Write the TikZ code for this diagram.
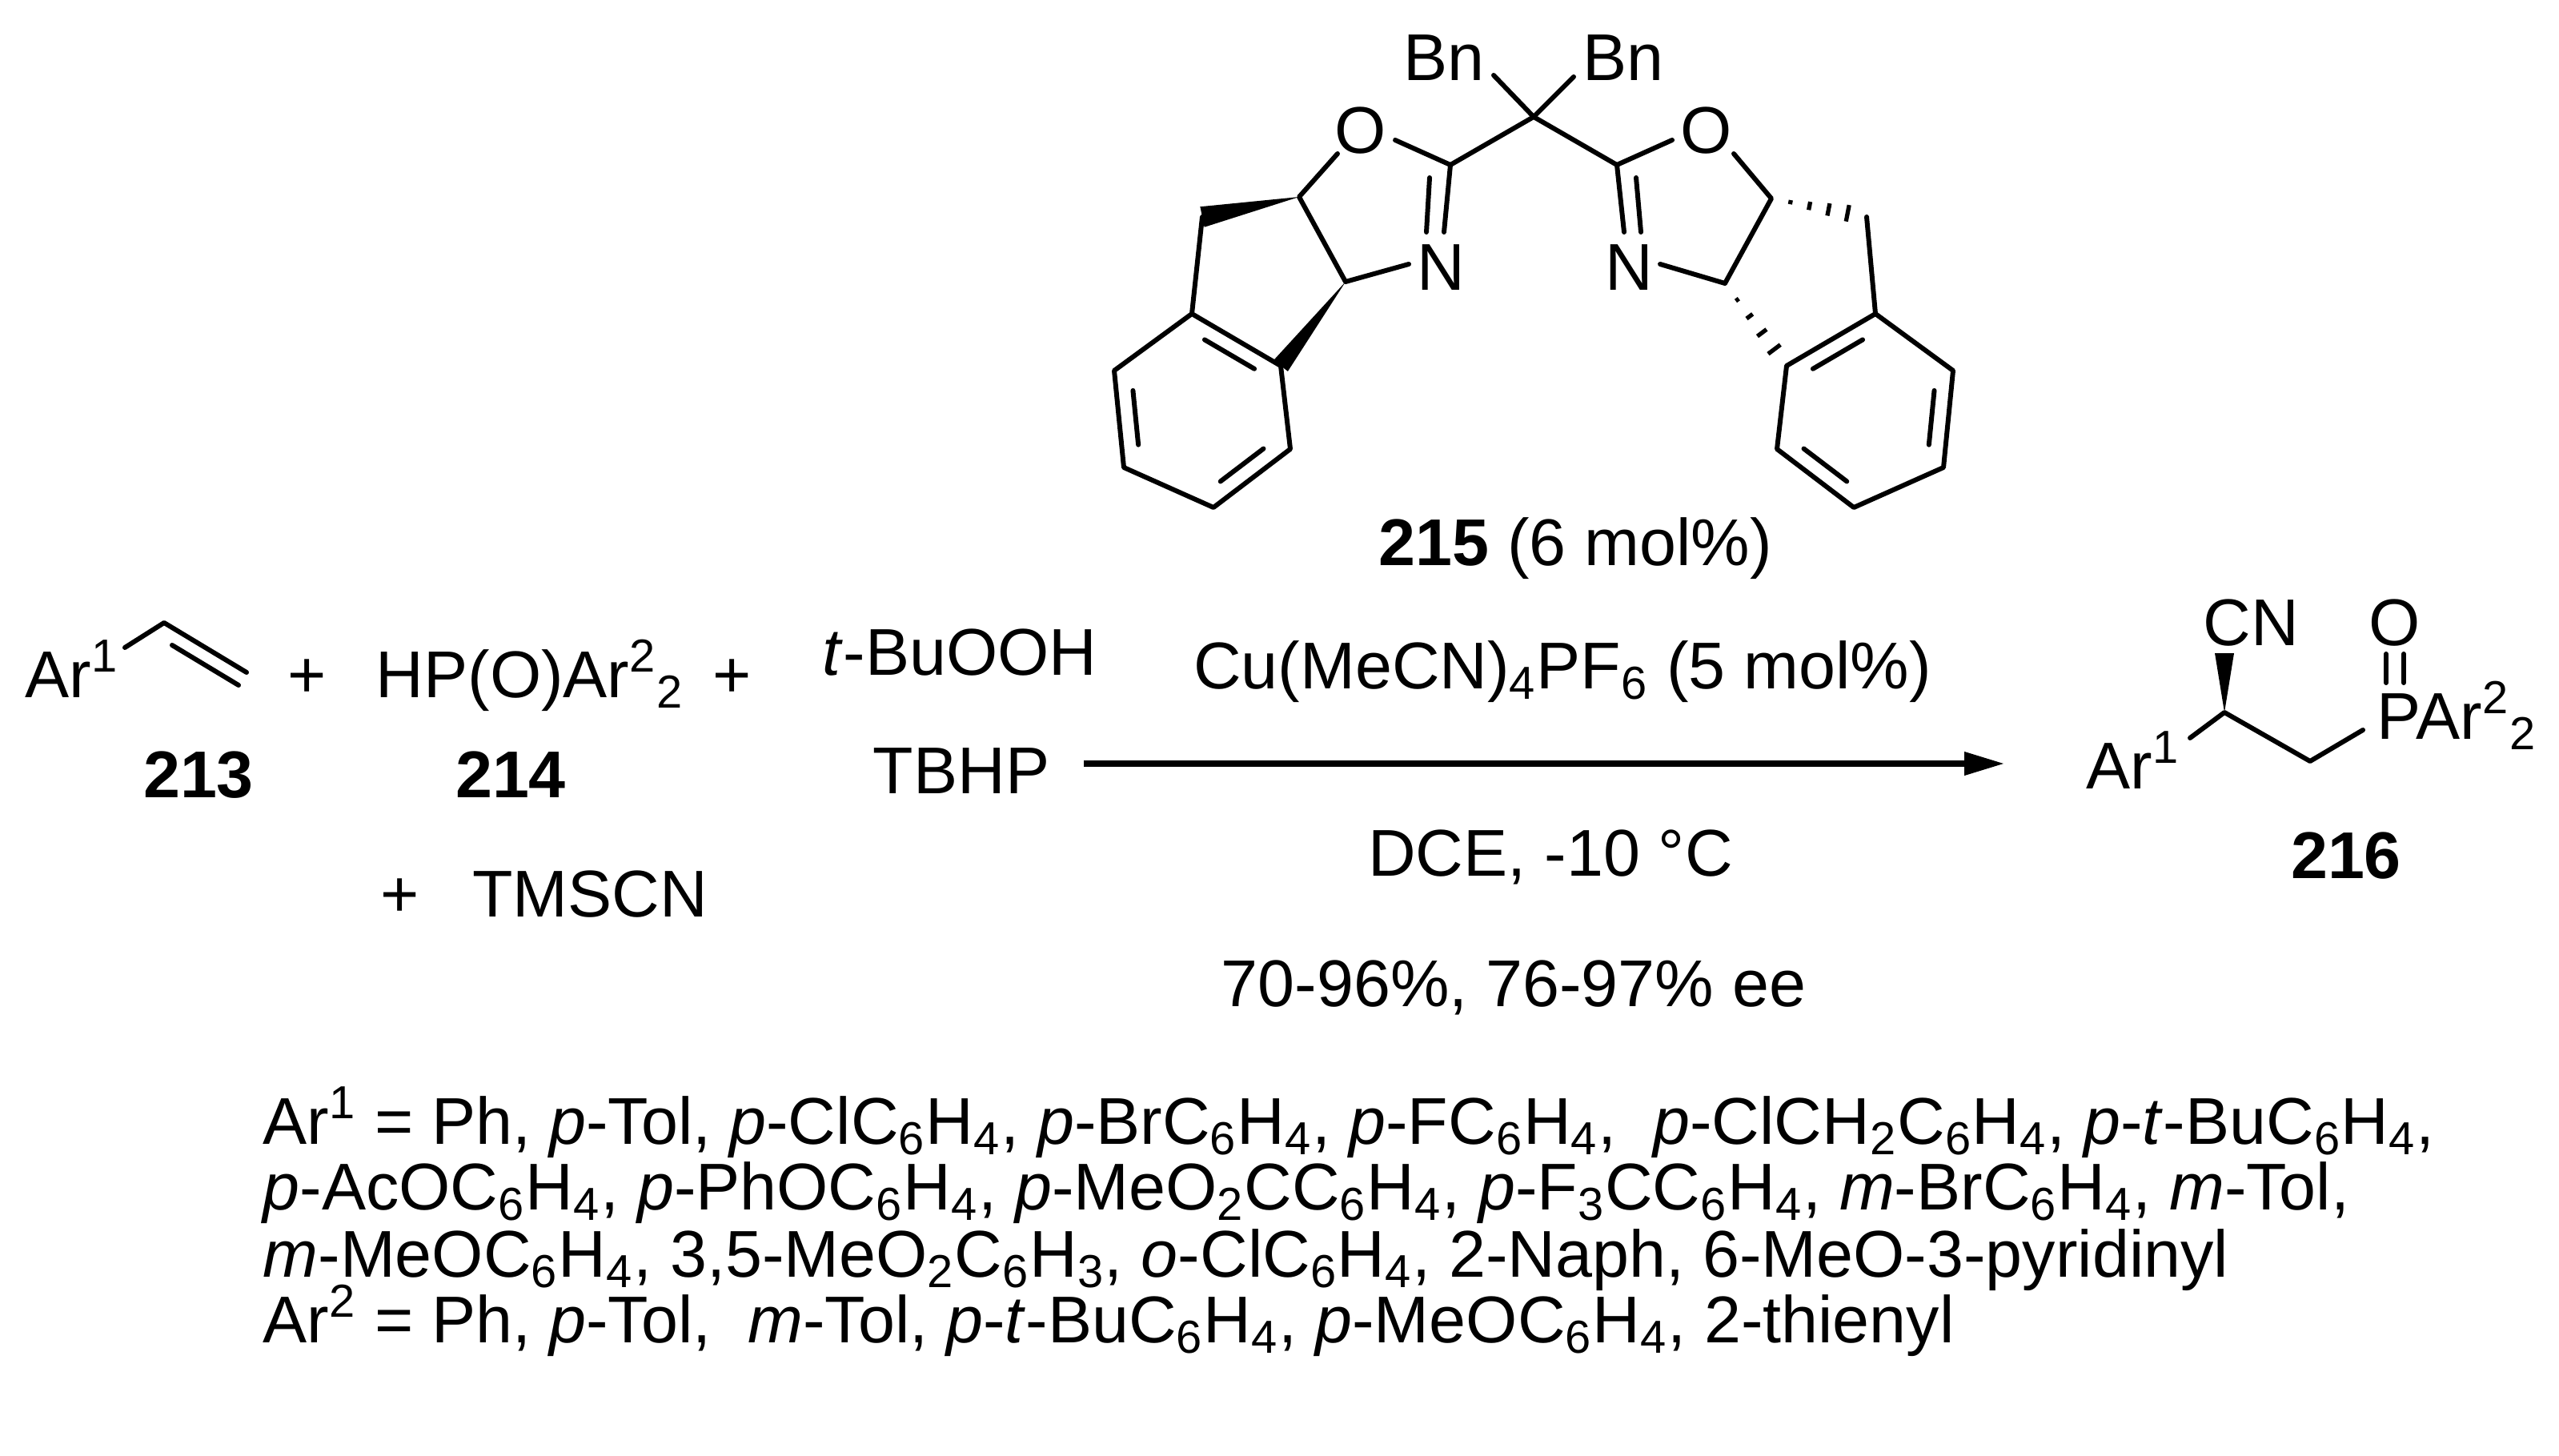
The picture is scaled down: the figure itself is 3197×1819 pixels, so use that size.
\documentclass[tikz,border=0pt]{standalone}
\usepackage{fontspec}
\setmainfont{Liberation Sans}
\usetikzlibrary{calc,arrows.meta}
\newcommand{\lo}[1]{\textsubscript{#1}}
\newcommand{\hi}[1]{\textsuperscript{#1}}
\begin{document}
\begin{tikzpicture}[x=0.01cm,y=-0.01cm,
  bond/.style={line width=1.7pt,line cap=round,line join=round},
  txt/.style={inner sep=0pt,font=\fontsize{23.5}{27}\selectfont},
  atom/.style={txt,anchor=center},
  lbl/.style={txt,anchor=base}]
\useasboundingbox (0,0) rectangle (3197,1819);
% ---------- ligand 215 ----------
\coordinate (Cc) at (1916,146);
\node[atom] (BnL) at (1804,72) {Bn};
\node[atom] (BnR) at (2028,72) {Bn};
\coordinate (bl) at (1866,94); \coordinate (br) at (1966,96);
\coordinate (C2) at (1812,206); \coordinate (C2r) at (2020,206);
\node[atom] (OL) at (1700,163) {O};
\node[atom] (OR) at (2132,163) {O};
\node[atom] (NL) at (1800,334) {N};
\node[atom] (NR) at (2035,334) {N};
\coordinate (C7a) at (1623,246); \coordinate (C3a) at (1681,352);
\coordinate (CH2) at (1502,271);
\coordinate (A) at (1489,392); \coordinate (B) at (1600,457); \coordinate (C) at (1612,561);
\coordinate (D) at (1516,634); \coordinate (E) at (1404,584); \coordinate (F) at (1392,463);
\coordinate (Z) at (1502,515);
\coordinate (C7ar) at (2213,248); \coordinate (C3ar) at (2155,354);
\coordinate (CH2r) at (2332,271);
\coordinate (Ar) at (2343,392); \coordinate (Br) at (2232,457); \coordinate (Cr) at (2220,561);
\coordinate (Dr) at (2316,634); \coordinate (Er) at (2428,584); \coordinate (Fr) at (2440,463);
\coordinate (Zr) at (2330,515);
\draw[bond] (bl) -- (Cc) -- (br);
\draw[bond] (C2) -- (Cc) -- (C2r);
\draw[bond] (1743,175) -- (C2); \draw[bond] (2089,175) -- (C2r);
\draw[bond] (C2) -- (1804,290); \draw[bond] (1786,222) -- (1782,290);
\draw[bond] (C2r) -- (2029,290); \draw[bond] (2044,222) -- (2050,290);
\draw[bond] (1671,192) -- (C7a) -- (C3a) -- (1760,330);
\draw[bond] (2166,192) -- (C7ar) -- (C3ar) -- (2074,330);
% left wedges
\fill (C7a) -- ($(CH2)!3.7pt!90:(C7a)$) -- ($(CH2)!3.7pt!-90:(C7a)$) -- cycle;
\fill (C3a) -- ($(B)!3.2pt!90:(C3a)$) -- ($(B)!3.2pt!-90:(C3a)$) -- cycle;
\draw[bond] (CH2) -- (A);
\draw[bond] (A) -- (B) -- (C) -- (D) -- (E) -- (F) -- cycle;
\draw[bond] ($0.68*(A)+0.12*(B)+0.2*(Z)$) -- ($0.12*(A)+0.68*(B)+0.2*(Z)$);
\draw[bond] ($0.68*(C)+0.12*(D)+0.2*(Z)$) -- ($0.12*(C)+0.68*(D)+0.2*(Z)$);
\draw[bond] ($0.68*(E)+0.12*(F)+0.2*(Z)$) -- ($0.12*(E)+0.68*(F)+0.2*(Z)$);
% right hashes
\foreach \t in {0.2,0.4,0.6,0.8,1.0}{
  \draw[line width=1.5pt] ($(C7ar)!\t!(CH2r)!{\t*3.7pt}!90:(CH2r)$) -- ($(C7ar)!\t!(CH2r)!{\t*3.7pt}!-90:(CH2r)$);
  \draw[line width=1.5pt] ($(C3ar)!\t!(Br)!{\t*3.4pt}!90:(Br)$) -- ($(C3ar)!\t!(Br)!{\t*3.4pt}!-90:(Br)$);
}
\draw[bond] (CH2r) -- (Ar);
\draw[bond] (Ar) -- (Br) -- (Cr) -- (Dr) -- (Er) -- (Fr) -- cycle;
\draw[bond] ($0.68*(Ar)+0.12*(Br)+0.2*(Zr)$) -- ($0.12*(Ar)+0.68*(Br)+0.2*(Zr)$);
\draw[bond] ($0.68*(Cr)+0.12*(Dr)+0.2*(Zr)$) -- ($0.12*(Cr)+0.68*(Dr)+0.2*(Zr)$);
\draw[bond] ($0.68*(Er)+0.12*(Fr)+0.2*(Zr)$) -- ($0.12*(Er)+0.68*(Fr)+0.2*(Zr)$);
\node[lbl] (l215) at (1968,707) {\textbf{215} (6 mol\%)};
% ---------- reactants ----------
\node[txt,anchor=base west] (ar1) at (31,871) {Ar\hi{1}};
\coordinate (v1) at (156,809); \coordinate (v2) at (205,778); \coordinate (v3) at (308,840);
\draw[bond] (v1) -- (v2) -- (v3);
\draw[bond] (215,806) -- (298,856);
\node[lbl] (p1) at (384,871) {+};
\node[txt,anchor=base west] (r214) at (469,871) {HP(O)Ar\hi{2}\lo{2}};
\node[lbl] (p2) at (915,871) {+};
\node[txt,anchor=base west] (tbu) at (1027,843) {\textit{t}-BuOOH};
\node[lbl] (n213) at (248,996) {\textbf{213}};
\node[lbl] (n214) at (638,996) {\textbf{214}};
\node[lbl] (tbhp) at (1201,991) {TBHP};
\node[lbl] (p3) at (500,1145) {+};
\node[lbl] (tms) at (737,1145) {TMSCN};
% ---------- arrow ----------
\coordinate (a1) at (1354,954); \coordinate (a2) at (2504,954);
\draw[line width=2pt,-{Triangle[length=0.5cm,width=0.28cm]}] (a1) -- (a2);
\node[lbl] (cu) at (1952,860) {Cu(MeCN)\lo{4}PF\lo{6} (5 mol\%)};
\node[lbl] (dce) at (1937,1094) {DCE, -10 °C};
\node[lbl] (yld) at (1891,1257) {70-96\%, 76-97\% ee};
% ---------- product 216 ----------
\node[txt,anchor=base west] (par) at (2606,985) {Ar\hi{1}};
\coordinate (pc) at (2779,890); \coordinate (pch2) at (2886,951);
\node[atom] (cn) at (2812,778) {CN};
\node[txt,anchor=base west] (pp) at (2969,923) {PAr\hi{2}\lo{2}};
\node[atom] (po) at (2992,778) {O};
\draw[bond] (2736,922) -- (pc) -- (pch2) -- (2952,912);
\fill (pc) -- (2791,816) -- (2767,816) -- cycle;
\draw[bond] (2981,817) -- (2981,853); \draw[bond] (3003,817) -- (3003,853);
\node[lbl] (n216) at (2931,1097) {\textbf{216}};
% ---------- footnote ----------
\node[txt,anchor=base west] (f1) at (328,1429) {Ar\hi{1} = Ph, \textit{p}-Tol, \textit{p}-ClC\lo{6}H\lo{4}, \textit{p}-BrC\lo{6}H\lo{4}, \textit{p}-FC\lo{6}H\lo{4}, \ \textit{p}-ClCH\lo{2}C\lo{6}H\lo{4}, \textit{p}-\textit{t}-BuC\lo{6}H\lo{4},};
\node[txt,anchor=base west] (f2) at (328,1511) {\textit{p}-AcOC\lo{6}H\lo{4}, \textit{p}-PhOC\lo{6}H\lo{4}, \textit{p}-MeO\lo{2}CC\lo{6}H\lo{4}, \textit{p}-F\lo{3}CC\lo{6}H\lo{4}, \textit{m}-BrC\lo{6}H\lo{4}, \textit{m}-Tol,};
\node[txt,anchor=base west] (f3) at (328,1595) {\textit{m}-MeOC\lo{6}H\lo{4}, 3,5-MeO\lo{2}C\lo{6}H\lo{3}, \textit{o}-ClC\lo{6}H\lo{4}, 2-Naph, 6-MeO-3-pyridinyl};
\node[txt,anchor=base west] (f4) at (328,1677) {Ar\hi{2} = Ph, \textit{p}-Tol, \ \textit{m}-Tol, \textit{p}-\textit{t}-BuC\lo{6}H\lo{4}, \textit{p}-MeOC\lo{6}H\lo{4}, 2-thienyl};
\end{tikzpicture}
\end{document}
